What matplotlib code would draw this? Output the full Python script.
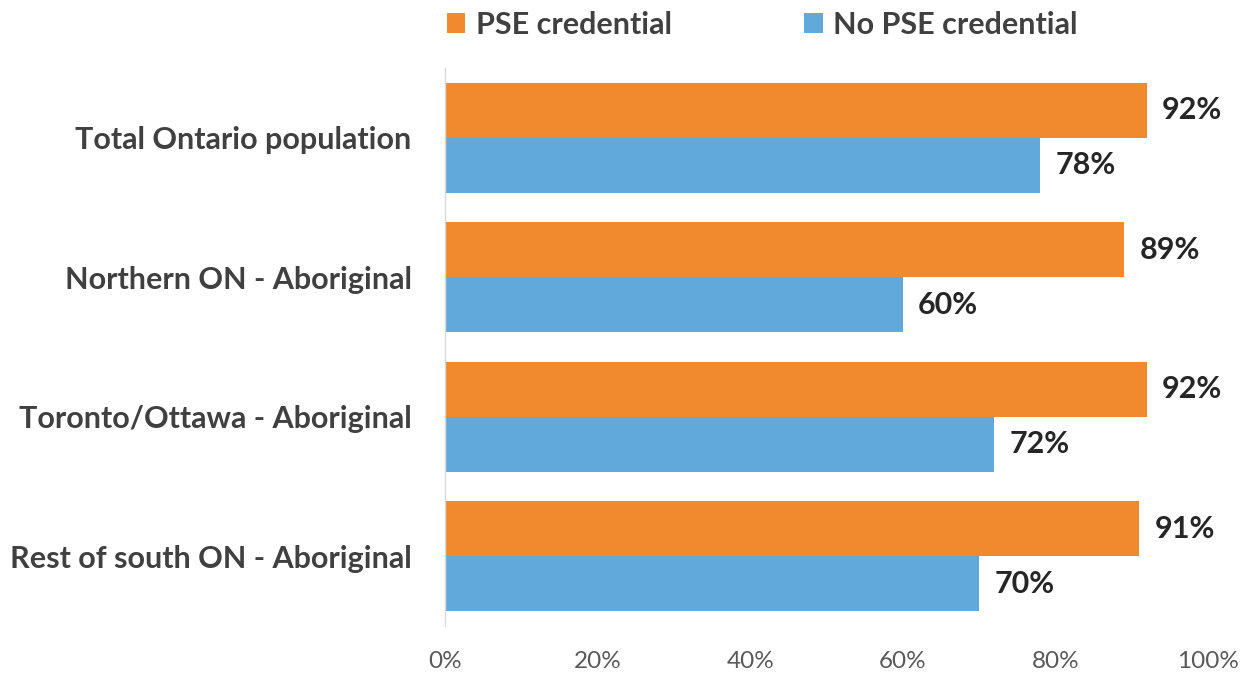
import matplotlib
matplotlib.use("Agg")
import matplotlib.pyplot as plt
import numpy as np
from matplotlib.ticker import PercentFormatter

categories = [
    "Total Ontario population",
    "Northern ON - Aboriginal",
    "Toronto/Ottawa - Aboriginal",
    "Rest of south ON - Aboriginal",
]
pse_credential = [92, 89, 92, 91]
no_pse_credential = [78, 60, 72, 70]
series_names = ["PSE credential", "No PSE credential"]
x_ticks = [0, 20, 40, 60, 80, 100]

orange = "#F08A2E"
blue = "#62A9DB"
text_dark = "#404040"
text_gray = "#595959"

plt.rcParams["font.family"] = ["Lato", "DejaVu Sans"]

fig = plt.figure(figsize=(12.46, 6.73), dpi=100)
ax = fig.add_axes([445 / 1246, 1 - 626 / 673, (1208 - 445) / 1246, (626 - 68) / 673])

y = np.arange(len(categories))
h = 0.395
bars_pse = ax.barh(y - h / 2, pse_credential, height=h, color=orange, label=series_names[0])
bars_no = ax.barh(y + h / 2, no_pse_credential, height=h, color=blue, label=series_names[1])

for bars, vals in ((bars_pse, pse_credential), (bars_no, no_pse_credential)):
    for b, v in zip(bars, vals):
        ax.annotate(f"{v}%", xy=(v, b.get_y() + b.get_height() / 2), xytext=(11, 0),
                    textcoords="offset points", va="center", ha="left",
                    fontsize=22, fontweight="bold", color="#262626")

ax.set_xlim(0, 100)
ax.set_ylim(len(categories) - 0.5, -0.5)
ax.set_yticks(y)
ax.set_yticklabels(categories, fontsize=22, fontweight="bold", color=text_dark)
ax.set_xticks(x_ticks)
ax.xaxis.set_major_formatter(PercentFormatter(decimals=0))
ax.tick_params(axis="x", length=0, labelsize=17.5, labelcolor=text_gray, pad=18)
ax.tick_params(axis="y", length=0, pad=24)

for s in ("top", "right", "bottom"):
    ax.spines[s].set_visible(False)
ax.spines["left"].set_color("#D9D9D9")
ax.spines["left"].set_linewidth(1.0)

leg = fig.legend(handles=[bars_pse, bars_no], labels=series_names,
                 loc="upper left", bbox_to_anchor=(419 / 1246, 1 + 17 / 673),
                 ncol=2, frameon=False, fontsize=22, handlelength=0.62, handleheight=0.62,
                 handletextpad=0.33, columnspacing=4.35)
for t in leg.get_texts():
    t.set_fontweight("bold")
    t.set_color(text_dark)

fig.savefig("out.png", dpi=100)
